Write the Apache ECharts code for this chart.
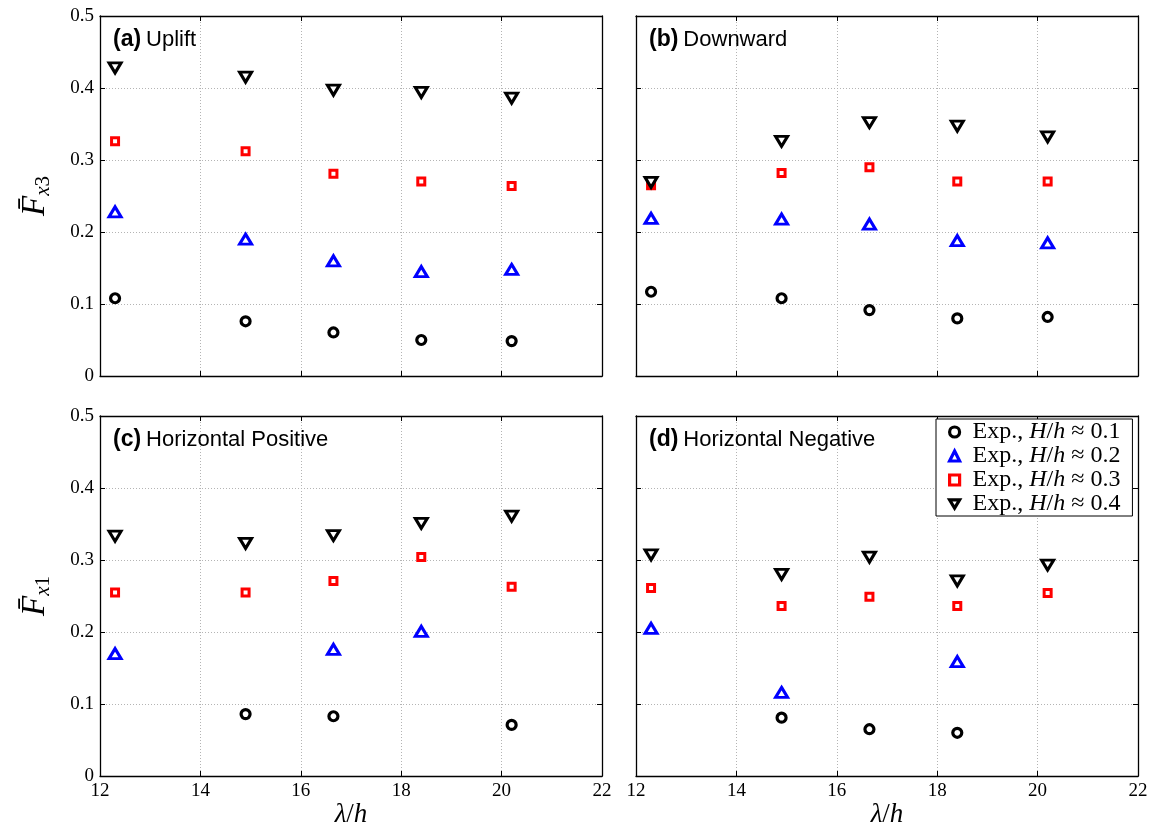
<!DOCTYPE html>
<html>
<head>
<meta charset="utf-8">
<script src="https://cdn.jsdelivr.net/npm/echarts@6/dist/echarts.min.js"></script>
<style>
html, body { margin: 0; background: #fff; }
#chart { width: 1151px; height: 834px; }
</style>
</head>
<body>
<div id="chart"></div>
<script>
// lambda/h positions shared by every panel
var lambdaH = [12.3, 14.9, 16.65, 18.4, 20.2];
var hRatios = ['0.1', '0.2', '0.3', '0.4'];
var xTicks = [12, 14, 16, 18, 20, 22];
var yTicks = [0, 0.1, 0.2, 0.3, 0.4, 0.5];

// (a) Uplift
var upliftH01 = [0.108, 0.076, 0.0605, 0.050, 0.0485];
var upliftH02 = [0.228, 0.190, 0.160, 0.145, 0.148];
var upliftH03 = [0.326, 0.312, 0.281, 0.270, 0.264];
var upliftH04 = [0.428, 0.415, 0.397, 0.394, 0.386];
// (b) Downward
var downH01 = [0.117, 0.108, 0.0915, 0.080, 0.082];
var downH02 = [0.219, 0.218, 0.211, 0.188, 0.185];
var downH03 = [0.265, 0.282, 0.290, 0.270, 0.270];
var downH04 = [0.269, 0.326, 0.352, 0.347, 0.332];
// (c) Horizontal Positive
var posH01 = [null, 0.086, 0.083, null, 0.071];
var posH02 = [0.170, null, 0.176, 0.201, null];
var posH03 = [0.255, 0.255, 0.271, 0.304, 0.263];
var posH04 = [0.333, 0.323, 0.334, 0.351, 0.361];
// (d) Horizontal Negative
var negH01 = [null, 0.081, 0.065, 0.060, null];
var negH02 = [0.205, 0.116, null, 0.159, null];
var negH03 = [0.261, 0.236, 0.249, 0.236, 0.254];
var negH04 = [0.307, 0.280, 0.304, 0.271, 0.293];

var seriesNames = hRatios.map(function (r) { return 'Exp., H/h ≈ ' + r; });

var markers = [
    {symbol: 'circle', legendIcon: 'circle', symbolSize: 9, rotate: 0, color: '#000000', width: 3.2},
    {symbol: 'triangle', legendIcon: 'triangle', symbolSize: [12, 10], rotate: 0, color: '#0000ff', width: 3},
    {symbol: 'rect', legendIcon: 'rect', symbolSize: 7, rotate: 0, color: '#ff0000', width: 3},
    {symbol: 'triangle', legendIcon: 'path://M0,0 L12,0 L6,10 Z', symbolSize: [12, 10], rotate: 180, color: '#000000', width: 3}
];

var panels = [
    {tag: '(a)', title: 'Uplift', sets: [upliftH01, upliftH02, upliftH03, upliftH04], left: 100, top: 16, xLab: false, yLab: true, sub: '3'},
    {tag: '(b)', title: 'Downward', sets: [downH01, downH02, downH03, downH04], left: 636, top: 16, xLab: false, yLab: false},
    {tag: '(c)', title: 'Horizontal Positive', sets: [posH01, posH02, posH03, posH04], left: 100, top: 416, xLab: true, yLab: true, sub: '1'},
    {tag: '(d)', title: 'Horizontal Negative', sets: [negH01, negH02, negH03, negH04], left: 636, top: 416, xLab: true, yLab: false}
];

var serif = 'Liberation Serif';
var sans = 'Liberation Sans';
var gridLine = {show: true, lineStyle: {color: '#b4b4b4', type: [1, 2], width: 1}};
var blackLine = {show: true, onZero: false, lineStyle: {color: '#000', width: 1.3}};
var tickIn = {show: true, inside: true, length: 5, lineStyle: {color: '#000', width: 1}};

var grids = [], xAxes = [], yAxes = [], series = [], titles = [];

panels.forEach(function (p, i) {
    grids.push({left: p.left, top: p.top, width: 502, height: 360, containLabel: false});

    // bottom and top x axes
    xAxes.push({
        gridIndex: i, type: 'value', min: xTicks[0], max: xTicks[xTicks.length - 1], interval: 2,
        position: 'bottom', axisLine: blackLine, axisTick: tickIn, splitLine: gridLine,
        axisLabel: {show: p.xLab, color: '#000', fontFamily: serif, fontSize: 19, margin: 6},
        name: p.xLab ? '{i|λ}{n|/}{i|h}' : '', nameLocation: 'middle', nameGap: 24,
        nameTextStyle: {rich: {
            i: {fontFamily: serif, fontStyle: 'italic', fontSize: 27, color: '#000'},
            n: {fontFamily: serif, fontSize: 27, color: '#000'}
        }}
    });
    xAxes.push({
        gridIndex: i, type: 'value', min: xTicks[0], max: xTicks[xTicks.length - 1], interval: 2,
        position: 'top', axisLine: blackLine, axisTick: tickIn, splitLine: {show: false},
        axisLabel: {show: false}
    });

    // left and right y axes
    yAxes.push({
        gridIndex: i, type: 'value', min: yTicks[0], max: yTicks[yTicks.length - 1], interval: 0.1,
        position: 'left', axisLine: blackLine, axisTick: tickIn, splitLine: gridLine,
        axisLabel: {show: p.yLab, color: '#000', fontFamily: serif, fontSize: 19, margin: 6},
        name: p.yLab ? '{f|F\u0304}{s|x}{t|' + p.sub + '}' : '', nameLocation: 'middle', nameGap: 46, nameRotate: 90,
        nameTextStyle: {rich: {
            f: {fontFamily: serif, fontStyle: 'italic', fontSize: 33, lineHeight: 38, color: '#000'},
            s: {fontFamily: serif, fontStyle: 'italic', fontSize: 21, lineHeight: 16, verticalAlign: 'bottom', color: '#000'},
            t: {fontFamily: serif, fontSize: 21, lineHeight: 16, verticalAlign: 'bottom', color: '#000'}
        }}
    });
    yAxes.push({
        gridIndex: i, type: 'value', min: yTicks[0], max: yTicks[yTicks.length - 1], interval: 0.1,
        position: 'right', axisLine: blackLine, axisTick: tickIn, splitLine: {show: false},
        axisLabel: {show: false}
    });

    p.sets.forEach(function (vals, k) {
        var m = markers[k];
        var pts = [];
        vals.forEach(function (v, j) { if (v !== null) pts.push([lambdaH[j], v]); });
        series.push({
            name: seriesNames[k], type: 'scatter', xAxisIndex: i * 2, yAxisIndex: i * 2,
            symbol: m.symbol, symbolSize: m.symbolSize, symbolRotate: m.rotate,
            itemStyle: {color: '#fff', borderColor: m.color, borderWidth: m.width, opacity: 1},
            emphasis: {disabled: true},
            data: pts
        });
    });

    titles.push({
        text: '{b|' + p.tag + '} {n|' + p.title + '}',
        left: p.left + 13, top: p.top + 12, padding: 0,
        textStyle: {fontWeight: 'normal', rich: {
            b: {fontFamily: sans, fontWeight: 'bold', fontSize: 23, color: '#000'},
            n: {fontFamily: sans, fontWeight: 'normal', fontSize: 22, color: '#000'}
        }}
    });
});

var legendItems = seriesNames.map(function (name, k) {
    var m = markers[k];
    return {
        name: name,
        icon: m.legendIcon,
        itemStyle: {color: '#fff', borderColor: m.color, borderWidth: 3.2}
    };
});

var chart = echarts.init(document.getElementById('chart'));

var option = {
    backgroundColor: '#fff',
    animation: false,
    title: titles,
    grid: grids,
    xAxis: xAxes,
    yAxis: yAxes,
    legend: {
        data: legendItems,
        orient: 'vertical',
        left: 936, top: 419,
        itemGap: 0, itemWidth: 10, itemHeight: 10,
        padding: [1, 12, 0, 12],
        borderColor: '#000', borderWidth: 1, backgroundColor: '#fff',
        selectedMode: false,
        formatter: function (name) {
            var r = hRatios[seriesNames.indexOf(name)];
            return '{p|Exp., }{i|H}{n|/}{i|h}{q|≈}{n|' + r + '}';
        },
        textStyle: {rich: {
            p: {fontFamily: serif, fontSize: 24, lineHeight: 23, color: '#000', padding: [0, 0, 0, 8]},
            n: {fontFamily: serif, fontSize: 24, lineHeight: 23, color: '#000'},
            q: {fontFamily: serif, fontSize: 24, lineHeight: 23, color: '#000', padding: [0, 6, 0, 6]},
            i: {fontFamily: serif, fontStyle: 'italic', fontSize: 24, lineHeight: 23, color: '#000'}
        }}
    },
    series: series
};

chart.setOption(option);
</script>
</body>
</html>
